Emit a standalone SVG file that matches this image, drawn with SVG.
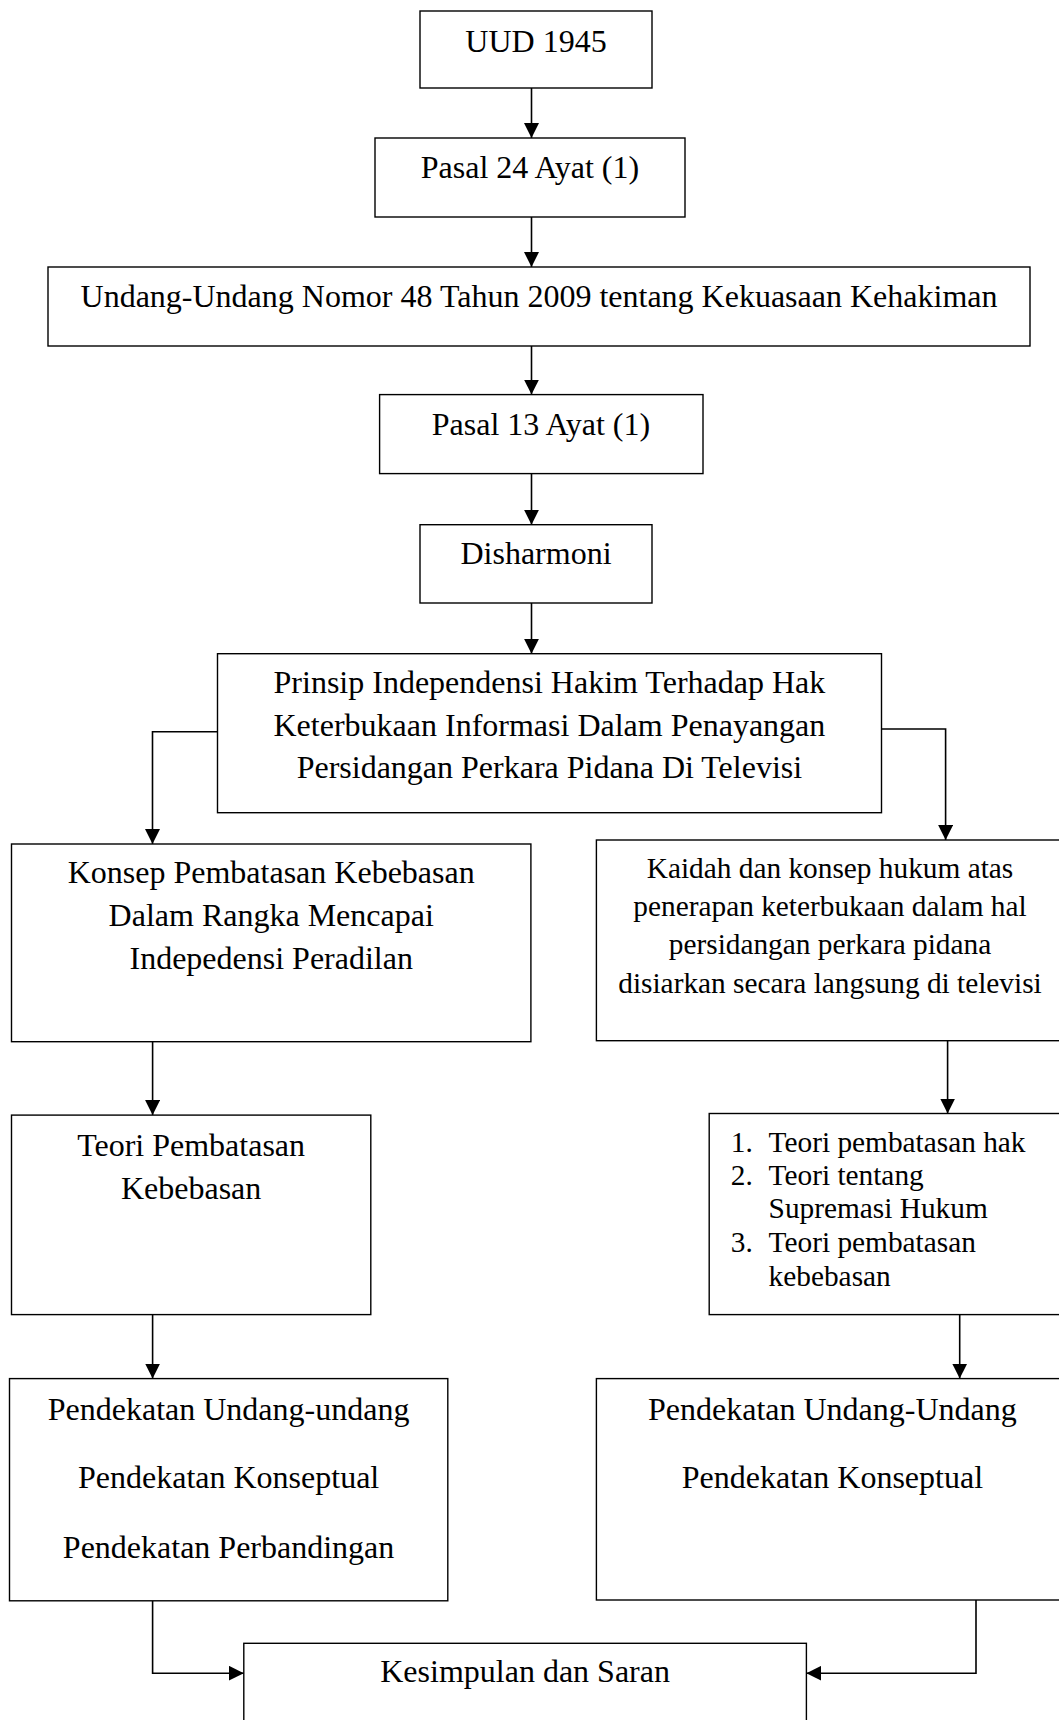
<svg xmlns="http://www.w3.org/2000/svg" width="1059" height="1720" viewBox="0 0 1059 1720">
<defs>
<style>
.box{fill:#fff;stroke:#000;stroke-width:1.4}
.t{font-family:"Liberation Serif","Times New Roman",serif;font-size:32px;fill:#000;text-anchor:middle}
.s{font-family:"Liberation Serif","Times New Roman",serif;font-size:29.33px;fill:#000}
.c{fill:none;stroke:#000;stroke-width:1.6}
</style>
<marker id="ah" markerUnits="userSpaceOnUse" markerWidth="15" markerHeight="15" refX="15" refY="7.5" orient="auto">
<path d="M0,0 L15,7.5 L0,15 z" fill="#000"/>
</marker>
</defs>
<rect width="1059" height="1720" fill="#fff"/>
<g id="connectors">
<line class="c" x1="531.5" y1="88" x2="531.5" y2="138" marker-end="url(#ah)"/>
<line class="c" x1="531.5" y1="217" x2="531.5" y2="267" marker-end="url(#ah)"/>
<line class="c" x1="531.5" y1="346" x2="531.5" y2="394.6" marker-end="url(#ah)"/>
<line class="c" x1="531.5" y1="474" x2="531.5" y2="524.7" marker-end="url(#ah)"/>
<line class="c" x1="531.5" y1="603" x2="531.5" y2="653.7" marker-end="url(#ah)"/>
<polyline class="c" points="217.5,731.7 152.5,731.7 152.5,844" marker-end="url(#ah)"/>
<polyline class="c" points="881.4,729 945.6,729 945.6,840" marker-end="url(#ah)"/>
<line class="c" x1="152.6" y1="1041.7" x2="152.6" y2="1115.1" marker-end="url(#ah)"/>
<line class="c" x1="947.6" y1="1040.7" x2="947.6" y2="1113.5" marker-end="url(#ah)"/>
<line class="c" x1="152.6" y1="1314.6" x2="152.6" y2="1378.6" marker-end="url(#ah)"/>
<line class="c" x1="959.7" y1="1314.6" x2="959.7" y2="1378.6" marker-end="url(#ah)"/>
<polyline class="c" points="152.6,1600.8 152.6,1673.2 243.8,1673.2" marker-end="url(#ah)"/>
<polyline class="c" points="976,1600 976,1673.2 806.4,1673.2" marker-end="url(#ah)"/>
</g>
<g id="uud">
<rect class="box" x="420" y="11" width="232" height="77"/>
<text class="t" x="536" y="51.5">UUD 1945</text>
</g>
<g id="pasal24">
<rect class="box" x="375" y="138" width="310" height="79"/>
<text class="t" x="530" y="178">Pasal 24 Ayat (1)</text>
</g>
<g id="uu48">
<rect class="box" x="48" y="267" width="982" height="79"/>
<text class="t" x="539" y="306.5">Undang-Undang Nomor 48 Tahun 2009 tentang Kekuasaan Kehakiman</text>
</g>
<g id="pasal13">
<rect class="box" x="379.6" y="394.6" width="323.4" height="79"/>
<text class="t" x="541" y="435">Pasal 13 Ayat (1)</text>
</g>
<g id="disharmoni">
<rect class="box" x="420" y="524.7" width="232" height="78.3"/>
<text class="t" x="536" y="563.5">Disharmoni</text>
</g>
<g id="prinsip">
<rect class="box" x="217.5" y="653.7" width="664" height="159"/>
<text class="t" x="549.4" y="693.3">Prinsip Independensi Hakim Terhadap Hak</text>
<text class="t" x="549.4" y="735.7">Keterbukaan Informasi Dalam Penayangan</text>
<text class="t" x="549.4" y="778">Persidangan Perkara Pidana Di Televisi</text>
</g>
<g id="konsep">
<rect class="box" x="11.5" y="844" width="519.4" height="197.7"/>
<text class="t" x="271.2" y="883.3">Konsep Pembatasan Kebebasan</text>
<text class="t" x="271.2" y="926.3">Dalam Rangka Mencapai</text>
<text class="t" x="271.2" y="969">Indepedensi Peradilan</text>
</g>
<g id="kaidah">
<rect class="box" x="596.4" y="840" width="480" height="200.7"/>
<text class="s" text-anchor="middle" x="830" y="878.3">Kaidah dan konsep hukum atas</text>
<text class="s" text-anchor="middle" x="830" y="915.7">penerapan keterbukaan dalam hal</text>
<text class="s" text-anchor="middle" x="830" y="954">persidangan perkara pidana</text>
<text class="s" text-anchor="middle" x="830" y="992.7">disiarkan secara langsung di televisi</text>
</g>
<g id="teori">
<rect class="box" x="11.5" y="1115.1" width="359.3" height="199.5"/>
<text class="t" x="191.1" y="1156">Teori Pembatasan</text>
<text class="t" x="191.1" y="1199">Kebebasan</text>
</g>
<g id="teori-list">
<rect class="box" x="709.2" y="1113.5" width="400" height="201.1"/>
<text class="s" x="730.8" y="1151.7">1.</text>
<text class="s" x="768.6" y="1151.7">Teori pembatasan hak</text>
<text class="s" x="730.8" y="1184.6">2.</text>
<text class="s" x="768.6" y="1184.6">Teori tentang</text>
<text class="s" x="768.6" y="1218.2">Supremasi Hukum</text>
<text class="s" x="730.8" y="1251.9">3.</text>
<text class="s" x="768.6" y="1251.9">Teori pembatasan</text>
<text class="s" x="768.6" y="1286">kebebasan</text>
</g>
<g id="pendekatan-kiri">
<rect class="box" x="9.5" y="1378.6" width="438.3" height="222.2"/>
<text class="t" x="228.6" y="1419.8">Pendekatan Undang-undang</text>
<text class="t" x="228.6" y="1488.4">Pendekatan Konseptual</text>
<text class="t" x="228.6" y="1557.9">Pendekatan Perbandingan</text>
</g>
<g id="pendekatan-kanan">
<rect class="box" x="596.4" y="1378.6" width="480" height="221.4"/>
<text class="t" x="832.4" y="1419.8">Pendekatan Undang-Undang</text>
<text class="t" x="832.4" y="1488.4">Pendekatan Konseptual</text>
</g>
<g id="kesimpulan">
<rect class="box" x="243.8" y="1643.3" width="562.6" height="100"/>
<text class="t" x="525.1" y="1682">Kesimpulan dan Saran</text>
</g>
</svg>
